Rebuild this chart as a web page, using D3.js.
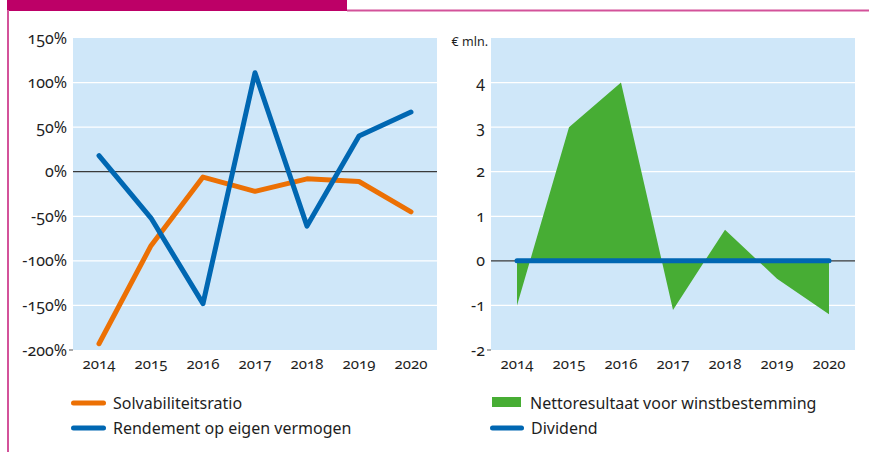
<!DOCTYPE html>
<html>
<head>
<meta charset="utf-8">
<script src="https://cdn.jsdelivr.net/npm/d3@7"></script>
<style>
  html, body { margin: 0; padding: 0; background: #fff; }
  svg { display: block; }
  text { font-family: "Noto Sans", "Open Sans", sans-serif; fill: #1e1e1e; }
  .axis text { font-variant-numeric: oldstyle-nums; font-feature-settings: "onum" 1; }
</style>
</head>
<body>
<svg id="chart" width="869" height="452"></svg>
<script>
// Years on both panels
const years = ["2014", "2015", "2016", "2017", "2018", "2019", "2020"];

// Left panel: ratios in percent
const solvabiliteitsratio = [-193, -83, -6, -22, -8, -11, -45];
const rendementEigenVermogen = [18, -52, -148, 111, -61, 40, 67];
const pctTicks = [150, 100, 50, 0, -50, -100, -150, -200];

// Right panel: € mln.
const nettoresultaat = [-1.0, 3.0, 4.0, -1.1, 0.7, -0.4, -1.2];
const dividend = [0, 0, 0, 0, 0, 0, 0];
const mlnTicks = [4, 3, 2, 1, 0, -1, -2];

const C = {
  magenta: "#bd0067",
  border: "#d3529a",
  bg: "#cfe7f9",
  orange: "#ec7004",
  blue: "#0067b2",
  green: "#47ad34",
  zero: "#3a3a3a"
};

const svg = d3.select("#chart");

// Frame: title band, top rule and left rule
svg.append("rect").attr("x", 7).attr("y", 0).attr("width", 340).attr("height", 11).attr("fill", C.magenta);
svg.append("line").attr("x1", 347).attr("x2", 869).attr("y1", 10.5).attr("y2", 10.5)
  .attr("stroke", C.border).attr("stroke-width", 2);
svg.append("line").attr("x1", 8).attr("x2", 8).attr("y1", 10).attr("y2", 452)
  .attr("stroke", C.border).attr("stroke-width", 2);

function panel(left, domain, ticks, fmt, ySize) {
  const g = svg.append("g");
  const x = d3.scaleBand().domain(years).range([left, left + 364]).paddingInner(0).paddingOuter(0);
  const y = d3.scaleLinear().domain(domain).range([350, 38]);
  g.append("rect").attr("x", left).attr("y", 38).attr("width", 364).attr("height", 312).attr("fill", C.bg);
  // white gridlines
  g.selectAll("line.grid").data(ticks.filter(t => t !== 0 && t !== domain[0] && t !== domain[1]))
    .join("line").attr("class", "grid")
    .attr("x1", left).attr("x2", left + 364)
    .attr("y1", d => y(d)).attr("y2", d => y(d))
    .attr("stroke", "#fff").attr("stroke-width", 1.3);
  // y axis labels
  const ax = d3.axisLeft(y).tickValues(ticks).tickSize(0).tickPadding(6).tickFormat(fmt);
  const ag = g.append("g").attr("class", "axis").attr("transform", `translate(${left},0)`).call(ax);
  ag.select(".domain").remove();
  ag.selectAll("text").attr("font-size", ySize).attr("fill", "#1e1e1e")
    .style("font-family", '"Noto Sans", sans-serif');
  // small tick at the bottom corner
  g.append("line").attr("x1", left - 4).attr("x2", left).attr("y1", 350).attr("y2", 350)
    .attr("stroke", "#555").attr("stroke-width", 1);
  // x axis labels
  const xa = d3.axisBottom(x).tickSize(0).tickPadding(8);
  const xg = g.append("g").attr("class", "axis").attr("transform", "translate(0,350)").call(xa);
  xg.select(".domain").remove();
  xg.selectAll("text").attr("font-size", 15).attr("fill", "#1e1e1e")
    .style("font-family", '"Noto Sans", sans-serif');
  return { g, x, y, cx: d => x(d) + x.bandwidth() / 2 };
}

const fmtPct = d => d + "%";

// ---- Left panel
const L = panel(73, [-200, 150], pctTicks, fmtPct, 16);
L.g.append("line").attr("x1", 73).attr("x2", 437).attr("y1", L.y(0)).attr("y2", L.y(0))
  .attr("stroke", C.zero).attr("stroke-width", 1.3);
const lineL = d3.line().x((d, i) => L.cx(years[i])).y(d => L.y(d));
L.g.append("path").datum(solvabiliteitsratio).attr("d", lineL)
  .attr("fill", "none").attr("stroke", C.orange).attr("stroke-width", 5)
  .attr("stroke-linecap", "round").attr("stroke-linejoin", "round");
L.g.append("path").datum(rendementEigenVermogen).attr("d", lineL)
  .attr("fill", "none").attr("stroke", C.blue).attr("stroke-width", 5)
  .attr("stroke-linecap", "round").attr("stroke-linejoin", "round");

// ---- Right panel
const R = panel(491, [-2, 5], mlnTicks, d => d, 16);
svg.append("text").attr("x", 488).attr("y", 46).attr("text-anchor", "end")
  .attr("font-size", 12.5).text("€ mln.");
const area = d3.area().x((d, i) => R.cx(years[i])).y0(R.y(0)).y1(d => R.y(d));
R.g.append("path").datum(nettoresultaat).attr("d", area).attr("fill", C.green);
R.g.append("line").attr("x1", 491).attr("x2", 855).attr("y1", R.y(0)).attr("y2", R.y(0))
  .attr("stroke", C.zero).attr("stroke-width", 1.3);
const lineR = d3.line().x((d, i) => R.cx(years[i])).y(d => R.y(d));
R.g.append("path").datum(dividend).attr("d", lineR)
  .attr("fill", "none").attr("stroke", C.blue).attr("stroke-width", 5)
  .attr("stroke-linecap", "round");

// ---- Legends
const legend = svg.append("g").attr("font-size", 16);
function lineKey(x1, x2, yy, color, label) {
  legend.append("line").attr("x1", x1 + 2.5).attr("x2", x2 - 2.5).attr("y1", yy).attr("y2", yy)
    .attr("stroke", color).attr("stroke-width", 5).attr("stroke-linecap", "round");
  legend.append("text").attr("x", x2 + 7).attr("y", yy + 6).text(label);
}
lineKey(71, 106, 403, C.orange, "Solvabiliteitsratio");
lineKey(71, 106, 428, C.blue, "Rendement op eigen vermogen");
legend.append("rect").attr("x", 492).attr("y", 397).attr("width", 29).attr("height", 10).attr("fill", C.green);
legend.append("text").attr("x", 530).attr("y", 409).text("Nettoresultaat voor winstbestemming");
lineKey(490, 524, 428, C.blue, "Dividend");
</script>
</body>
</html>
